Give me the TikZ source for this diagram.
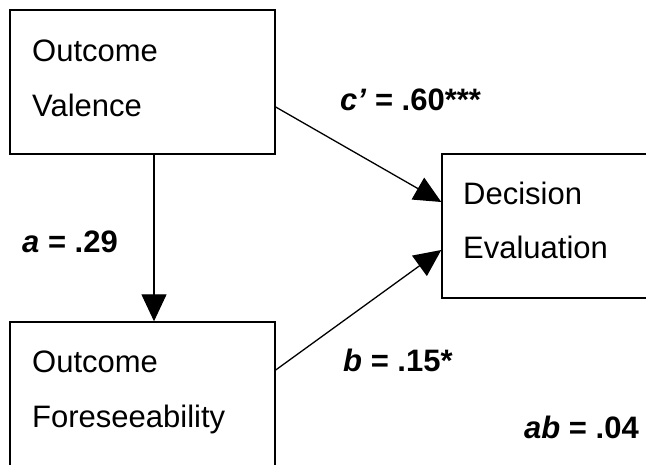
\documentclass[tikz,border=0pt]{standalone}
\usepackage{fontspec}
\setmainfont{Liberation Sans}
\usetikzlibrary{arrows.meta}
\begin{document}
\begin{tikzpicture}[x=1pt,y=-1pt,
  box/.style={draw,line width=1.4pt,rectangle,inner sep=0pt},
  txt/.style={anchor=base west,inner sep=0pt,font=\fontsize{31}{37}\selectfont},
  lbl/.style={anchor=base west,inner sep=0pt,font=\fontsize{31}{37}\selectfont\bfseries},
  arr/.style={line width=1.3pt,-{Triangle[width=25pt,length=27pt]}}]
\useasboundingbox (0,0) rectangle (646,465);
\clip (0,0) rectangle (646,465);
\fill[white] (0,0) rectangle (646,465);
% boxes
\node[box,minimum width=265pt,minimum height=144pt] (ov) at (142.5,82) {};
\node[box,minimum width=265pt,minimum height=200pt] (fb) at (142.5,422) {};
\node[box,minimum width=230pt,minimum height=144pt] (de) at (557,226) {};
% box texts
\node[txt] (ov1) at (32,62) {Outcome};
\node[txt] (ov2) at (32,117) {Valence};
\node[txt] (fb1) at (32,373) {Outcome};
\node[txt] (fb2) at (32,428) {Foreseeability};
\node[txt] (de1) at (463,205) {Decision};
\node[txt] (de2) at (463,259) {Evaluation};
% connectors
\draw[arr] ([xshift=11.5pt]ov.south) -- ([xshift=11.5pt]ov.south |- fb.north);
\draw[arr] ([yshift=-25pt]ov.east) -- ([yshift=24pt]de.west);
\draw[arr] ([yshift=52pt]fb.east) -- ([yshift=-24pt]de.west);
% labels
\node[lbl] (lc) at (340,111) {\textit{c’} = .60***};
\node[lbl] (la) at (22,253) {\textit{a} = .29};
\node[lbl] (lb) at (343,371) {\textit{b} = .15*};
\node[lbl] (lab) at (524,438) {\textit{ab} = .04};
\end{tikzpicture}
\end{document}
